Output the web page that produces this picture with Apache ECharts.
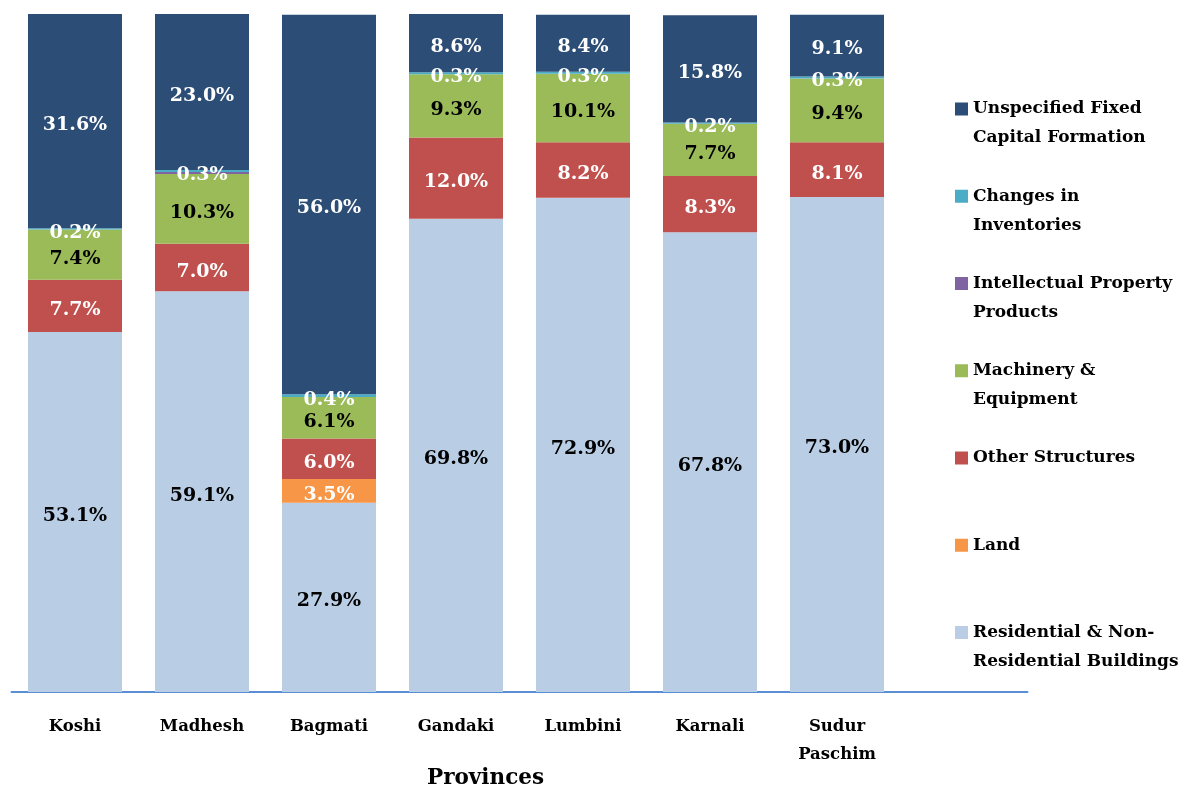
<!DOCTYPE html>
<html>
<head>
<meta charset="utf-8">
<script src="https://cdn.jsdelivr.net/npm/echarts@6/dist/echarts.min.js"></script>
<style>
  html, body { margin: 0; padding: 0; background: #ffffff; }
  #chart { width: 1198px; height: 787px; }
</style>
</head>
<body>
<div id="chart"></div>
<script>
// Provinces (a trailing blank slot keeps the axis running under the legend area)
const provinces = ['Koshi', 'Madhesh', 'Bagmati', 'Gandaki', 'Lumbini', 'Karnali', 'Sudur\nPaschim', ''];

// Share of gross fixed capital formation by asset type (%)
const residential   = [53.1, 59.1, 27.9, 69.8, 72.9, 67.8, 73.0];
const land          = [null, null, 3.5, null, null, null, null];
const otherStruct   = [7.7, 7.0, 6.0, 12.0, 8.2, 8.3, 8.1];
const machinery     = [7.4, 10.3, 6.1, 9.3, 10.1, 7.7, 9.4];
const intellectual  = [null, 0.3, null, null, null, null, null];
const inventories   = [0.2, 0.3, 0.4, 0.3, 0.3, 0.2, 0.3];
const unspecified   = [31.6, 23.0, 56.0, 8.6, 8.4, 15.8, 9.1];

const seriesDefs = [
  { name: 'Residential & Non-Residential Buildings', data: residential, color: '#B9CDE5', text: '#000000', label: true },
  { name: 'Land', data: land, color: '#F79646', text: '#ffffff', label: true },
  { name: 'Other Structures', data: otherStruct, color: '#C0504D', text: '#ffffff', label: true },
  { name: 'Machinery & Equipment', data: machinery, color: '#9BBB59', text: '#000000', label: true },
  { name: 'Intellectual Property Products', data: intellectual, color: '#8064A2', text: '#ffffff', label: false },
  { name: 'Changes in Inventories', data: inventories, color: '#4BACC6', text: '#ffffff', label: true },
  { name: 'Unspecified Fixed Capital Formation', data: unspecified, color: '#2C4D75', text: '#ffffff', label: true }
];

// Legend text, wrapped; a blank first line keeps the marker beside the first text line
const legendText = {
  'Unspecified Fixed Capital Formation': 'Unspecified Fixed\nCapital Formation',
  'Changes in Inventories': 'Changes in\nInventories',
  'Intellectual Property Products': 'Intellectual Property\nProducts',
  'Machinery & Equipment': 'Machinery &\nEquipment',
  'Other Structures': 'Other Structures\n ',
  'Land': 'Land\n ',
  'Residential & Non-Residential Buildings': 'Residential & Non-\nResidential Buildings'
};

const FONT = '"DejaVu Serif", serif';

const chart = echarts.init(document.getElementById('chart'), null, { renderer: 'canvas' });

chart.setOption({
  animation: false,
  backgroundColor: '#ffffff',
  title: {
    text: 'Provinces',
    left: 427,
    top: 767,
    padding: 0,
    textStyle: { fontFamily: FONT, fontWeight: 'bold', fontSize: 21.5, color: '#000000' }
  },
  legend: {
    orient: 'vertical',
    left: 955,
    top: 65.5,
    padding: 0,
    itemGap: 0.25,
    itemWidth: 13,
    itemHeight: 13,
    icon: 'rect',
    selectedMode: false,
    data: seriesDefs.slice().reverse().map(s => s.name),
    formatter: name => ' \n' + legendText[name],
    textStyle: { fontFamily: FONT, fontWeight: 'bold', fontSize: 17, lineHeight: 29, color: '#000000' }
  },
  grid: { left: 11.5, right: 170.5, top: 14, bottom: 95 },
  xAxis: {
    type: 'category',
    data: provinces,
    axisLine: { show: true, lineStyle: { color: '#5B8FD5', width: 2 } },
    axisTick: { show: false },
    axisLabel: {
      margin: 21,
      interval: 0,
      fontFamily: FONT,
      fontWeight: 'bold',
      fontSize: 16.5,
      lineHeight: 28,
      color: '#000000'
    }
  },
  yAxis: {
    type: 'value',
    min: 0,
    max: 100,
    show: false,
    splitLine: { show: false }
  },
  series: seriesDefs.map(s => ({
    name: s.name,
    type: 'bar',
    stack: 'total',
    barWidth: 94,
    data: s.data,
    itemStyle: { color: s.color },
    label: {
      show: s.label,
      position: 'inside',
      offset: [0, 4],
      formatter: p => (p.value == null || p.value === 0) ? '' : p.value.toFixed(1) + '%',
      fontFamily: FONT,
      fontWeight: 'bold',
      fontSize: 19,
      color: s.text
    }
  }))
});
</script>
</body>
</html>
